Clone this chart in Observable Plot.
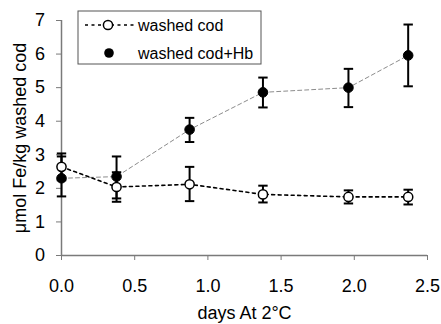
<!DOCTYPE html>
<html>
<head>
<meta charset="utf-8">
<script src="https://cdn.jsdelivr.net/npm/d3@7"></script>
<script src="https://cdn.jsdelivr.net/npm/@observablehq/plot@0.6"></script>
<style>
  html, body { margin: 0; padding: 0; background: #fff; }
  #chart { position: relative; width: 441px; height: 324px; }
</style>
</head>
<body>
<div id="chart"></div>
<script>
// ---- data ----
const days = [0, 0.376, 0.875, 1.376, 1.96, 2.368];
const washedCod = [2.64, 2.04, 2.12, 1.82, 1.745, 1.745];
const washedCodLow = [2.24, 1.6, 1.62, 1.58, 1.55, 1.52];
const washedCodHigh = [3.04, 2.48, 2.64, 2.08, 1.94, 1.96];
const washedCodHb = [2.3, 2.35, 3.75, 4.86, 5.0, 5.96];
const washedCodHbLow = [1.76, 1.7, 3.38, 4.41, 4.42, 5.04];
const washedCodHbHigh = [2.95, 2.95, 4.1, 5.3, 5.56, 6.88];
const xTicks = [0, 0.5, 1.0, 1.5, 2.0, 2.5];
const yTicks = [0, 1, 2, 3, 4, 5, 6, 7];
const seriesNames = ["washed cod", "washed cod+Hb"];
const xLabel = "days At 2°C";
const yLabel = "μmol Fe/kg washed cod";

const cod = days.map((d, i) => ({day: d, v: washedCod[i], lo: washedCodLow[i], hi: washedCodHigh[i]}));
const hb = days.map((d, i) => ({day: d, v: washedCodHb[i], lo: washedCodHbLow[i], hi: washedCodHbHigh[i]}));

const FONT = "'Liberation Sans', Arial, sans-serif";
const axisGray = "#7a7a7a";
// horizontal cap symbol for error bars
const capSymbol = {
  draw(context, size) {
    const w = Math.sqrt(size) / 2;
    context.moveTo(-w, 0);
    context.lineTo(w, 0);
  }
};

function errorMarks(data) {
  return [
    Plot.ruleX(data, {x: "day", y1: "lo", y2: "hi", stroke: "black", strokeWidth: 2}),
    Plot.dot(data, {x: "day", y: "lo", symbol: capSymbol, r: 5.3, stroke: "black", strokeWidth: 2, fill: "none"}),
    Plot.dot(data, {x: "day", y: "hi", symbol: capSymbol, r: 5.3, stroke: "black", strokeWidth: 2, fill: "none"})
  ];
}

const chart = Plot.plot({
  width: 441,
  height: 324,
  marginLeft: 61,
  marginRight: 14,
  marginTop: 20,
  marginBottom: 69,
  style: `font-family: ${FONT}; font-size: 18px; background: white; color: black;`,
  x: {domain: [0, 2.5]},
  y: {domain: [0, 7]},
  marks: [
    Plot.axisX({ticks: xTicks, tickFormat: d3.format(".1f"), tickSize: 5, tickPadding: 19, stroke: axisGray, fill: "black",
      fontSize: 18, label: null}),
    Plot.axisY({ticks: yTicks, tickFormat: d3.format("d"), tickSize: 5, tickPadding: 11.5, stroke: axisGray, fill: "black",
      fontSize: 18, label: null}),
    Plot.text([xLabel], {frameAnchor: "bottom", dy: 58, lineAnchor: "middle", textAnchor: "middle", fontSize: 18, fill: "black"}),
    Plot.text([yLabel], {frameAnchor: "left", dx: -41, rotate: -90, lineAnchor: "middle", textAnchor: "middle", fontSize: 18, fill: "black"}),
    Plot.ruleY([0], {stroke: axisGray, strokeWidth: 1.5}),
    Plot.ruleX([0], {stroke: axisGray, strokeWidth: 1.5}),
    Plot.line(hb, {x: "day", y: "v", stroke: "#8c8c8c", strokeWidth: 1, strokeDasharray: "4,3"}),
    Plot.line(cod, {x: "day", y: "v", stroke: "black", strokeWidth: 1.6, strokeDasharray: "3,3.5"}),
    ...errorMarks(cod),
    ...errorMarks(hb),
    Plot.dot(cod, {x: "day", y: "v", r: 4.6, fill: "white", stroke: "black", strokeWidth: 1.5}),
    Plot.dot(hb, {x: "day", y: "v", r: 4.8, fill: "black", stroke: "black", strokeWidth: 1})
  ]
});

const host = document.getElementById("chart");
host.appendChild(chart);

// legend drawn inside plot area (overlay)
const svg = d3.select(chart);
const lg = svg.append("g").style("font-family", FONT).style("font-size", "16px").attr("text-anchor", "start");
lg.append("rect").attr("x", 78).attr("y", 11).attr("width", 183).attr("height", 53)
  .attr("fill", "white").attr("stroke", "#555").attr("stroke-width", 1);
const rows = [25, 53];
// row 1: washed cod
lg.append("line").attr("x1", 85).attr("x2", 134).attr("y1", rows[0]).attr("y2", rows[0])
  .attr("stroke", "black").attr("stroke-width", 1.6).attr("stroke-dasharray", "3,3.5");
lg.append("circle").attr("cx", 108).attr("cy", rows[0]).attr("r", 4.6)
  .attr("fill", "white").attr("stroke", "black").attr("stroke-width", 1.5);
// row 2: washed cod+Hb
lg.append("circle").attr("cx", 109).attr("cy", rows[1]).attr("r", 4.8).attr("fill", "black");
seriesNames.forEach((name, i) => {
  lg.append("text").attr("x", 138).attr("y", rows[i]).attr("dy", "0.35em")
    .style("text-anchor", "start").attr("fill", "black").text(name);
});
</script>
</body>
</html>
